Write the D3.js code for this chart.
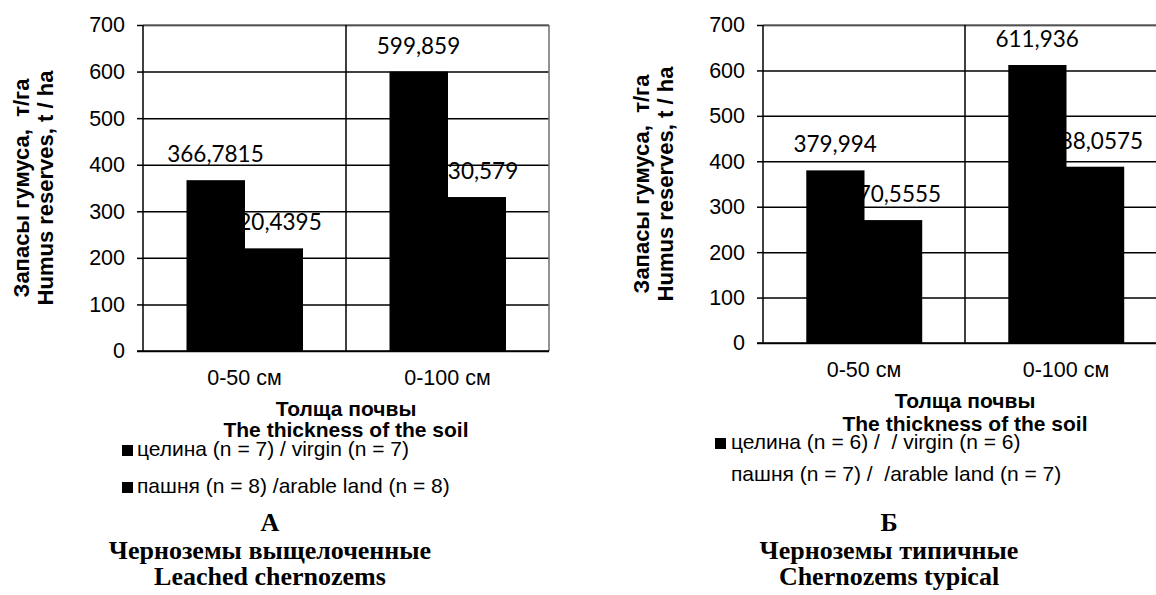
<!DOCTYPE html>
<html>
<head>
<meta charset="utf-8">
<script src="https://cdn.jsdelivr.net/npm/d3@7"></script>
<style>
  body { margin: 0; background: #fff; }
  svg text { fill: #000; white-space: pre; }
  .sans { font-family: "Liberation Sans", Arial, sans-serif; }
  .val { font-family: Lato, "Open Sans", sans-serif; }
  .serif { font-family: "Liberation Serif", "Times New Roman", serif; font-weight: bold; }
</style>
</head>
<body>
<div id="chart"></div>
<script>
// values
var categories = ["0-50 см", "0-100 см"];
var yTicks = [0, 100, 200, 300, 400, 500, 600, 700];

var leachedVirgin = [366.7815, 599.859];
var leachedArable = [220.4395, 330.579];
var typicalVirgin = [379.994, 611.936];
var typicalArable = [270.5555, 388.0575];

var leachedLegend = ["целина (n = 7) / virgin (n = 7)", "пашня (n = 8) /arable land (n = 8)"];
var typicalLegend = ["целина (n = 6) /  / virgin (n = 6)", "пашня (n = 7) /  /arable land (n = 7)"];

var yTitle = ["Запасы гумуса,  т/га", "Humus reserves, t / ha"];
var xTitle = ["Толща почвы", "The thickness of the soil"];
var leachedCaption = ["А", "Черноземы выщелоченные", "Leached chernozems"];
var typicalCaption = ["Б", "Черноземы типичные", "Chernozems typical"];

var svg = d3.select("#chart").append("svg")
  .attr("width", 1156)
  .attr("height", 595);

function fmt(v) {
  return String(v).replace(".", ",");
}

function drawPanel(p) {
  var g = svg.append("g");

  // scales
  var x = d3.scaleBand().domain(categories).range([p.x0, p.x1]);
  var xSub = d3.scaleBand().domain([0, 1]).range([0, x.bandwidth()])
    .paddingInner(0).paddingOuter(0.75);
  var y = d3.scaleLinear().domain([0, 700]).range([p.yBottom, p.yTop]);

  // horizontal grid (black)
  g.append("g")
    .attr("transform", "translate(" + p.x0 + ",0)")
    .call(d3.axisLeft(y).tickValues(yTicks).tickSizeInner(-(p.x1 - p.x0)).tickSizeOuter(0).tickFormat(""))
    .call(function (a) { a.select(".domain").remove(); })
    .call(function (a) { a.selectAll(".tick line").attr("stroke", "#000").attr("stroke-width", 1.5); });

  // outward ticks + labels
  g.append("g")
    .attr("transform", "translate(" + p.x0 + ",0)")
    .call(d3.axisLeft(y).tickValues(yTicks).tickSize(6).tickPadding(12).tickFormat(d3.format("d")))
    .call(function (a) { a.select(".domain").remove(); })
    .call(function (a) {
      a.selectAll(".tick line").attr("stroke", "#000").attr("stroke-width", 1.5);
      a.selectAll(".tick text")
        .attr("class", "sans")
        .style("font-size", "21.5px")
        .attr("fill", "#000");
    });

  // plot border: top / right gray
  g.append("line")
    .attr("x1", p.x0).attr("x2", p.x1)
    .attr("y1", y(700)).attr("y2", y(700))
    .attr("stroke", "#6e6e6e").attr("stroke-width", 1.5);
  g.append("line")
    .attr("x1", p.x1).attr("x2", p.x1)
    .attr("y1", y(700)).attr("y2", y(0))
    .attr("stroke", "#6e6e6e").attr("stroke-width", 1.5);

  // category divider
  g.selectAll(".divider")
    .data(categories.slice(1))
    .join("line")
    .attr("class", "divider")
    .attr("x1", function (d) { return x(d); })
    .attr("x2", function (d) { return x(d); })
    .attr("y1", y(700)).attr("y2", y(0))
    .attr("stroke", "#000").attr("stroke-width", 1.5);

  var series = [p.virgin, p.arable];
  var rows = [];
  series.forEach(function (vals, s) {
    vals.forEach(function (v, i) {
      rows.push({ cat: categories[i], s: s, v: v });
    });
  });

  // labels go under the bars (first bar hides the arable label's first digit)
  g.selectAll(".val")
    .data(rows)
    .join("text")
    .attr("class", "val")
    .attr("text-anchor", "middle")
    .style("font-size", "22.5px")
    .attr("x", function (d) { return x(d.cat) + xSub(d.s) + xSub.bandwidth() / 2; })
    .attr("y", function (d) { return y(d.v) - 18; })
    .text(function (d) { return fmt(d.v); });

  g.selectAll(".bar")
    .data(rows)
    .join("rect")
    .attr("class", "bar")
    .attr("x", function (d) { return x(d.cat) + xSub(d.s); })
    .attr("width", xSub.bandwidth() + 0.5)
    .attr("y", function (d) { return y(d.v); })
    .attr("height", function (d) { return y(0) - y(d.v); })
    .attr("fill", "#000");

  // axis lines
  g.append("line")
    .attr("x1", p.x0).attr("x2", p.x0)
    .attr("y1", y(700)).attr("y2", y(0))
    .attr("stroke", "#000").attr("stroke-width", 1.5);
  g.append("line")
    .attr("x1", p.x0 - 6).attr("x2", p.x1)
    .attr("y1", y(0)).attr("y2", y(0))
    .attr("stroke", "#000").attr("stroke-width", 1.5);

  // category labels
  g.selectAll(".cat")
    .data(categories)
    .join("text")
    .attr("class", "sans cat")
    .attr("text-anchor", "middle")
    .style("font-size", "21.5px")
    .attr("x", function (d) { return x(d) + x.bandwidth() / 2; })
    .attr("y", y(0) + 34)
    .text(function (d) { return d; });

  // y title
  yTitle.forEach(function (t, i) {
    g.append("text")
      .attr("class", "sans")
      .attr("text-anchor", "middle")
      .style("font-size", "22px")
      .style("font-weight", "bold")
      .attr("transform", "translate(" + (p.x0 - 114 + i * 24) + "," + ((p.yTop + p.yBottom) / 2) + ") rotate(-90)")
      .text(t);
  });

  // x title
  xTitle.forEach(function (t, i) {
    g.append("text")
      .attr("class", "sans")
      .attr("text-anchor", "middle")
      .style("font-size", "21px")
      .style("font-weight", "bold")
      .attr("x", (p.x0 + p.x1) / 2)
      .attr("y", p.xTitleY[i])
      .text(t);
  });

  // legend
  p.legend.forEach(function (t, i) {
    if (p.legendMark[i]) {
      g.append("rect")
        .attr("x", p.legendX)
        .attr("y", p.legendY[i] - 11)
        .attr("width", 11)
        .attr("height", 11)
        .attr("fill", "#000");
    }
    g.append("text")
      .attr("class", "sans")
      .style("font-size", "21px")
      .attr("x", p.legendX + p.legendGap)
      .attr("y", p.legendY[i])
      .text(t);
  });

  // caption
  p.caption.forEach(function (t, i) {
    g.append("text")
      .attr("class", "serif")
      .attr("text-anchor", "middle")
      .style("font-size", "26px")
      .attr("x", p.captionX)
      .attr("y", [531, 559, 585][i])
      .text(t);
  });
}

drawPanel({
  x0: 143, x1: 549, yTop: 25, yBottom: 351,
  virgin: leachedVirgin, arable: leachedArable,
  xTitleY: [416, 437],
  legend: leachedLegend, legendMark: [true, true],
  legendX: 122, legendGap: 15, legendY: [456, 493],
  caption: leachedCaption, captionX: 270
});

drawPanel({
  x0: 763, x1: 1167, yTop: 25, yBottom: 343,
  virgin: typicalVirgin, arable: typicalArable,
  xTitleY: [408, 431],
  legend: typicalLegend, legendMark: [true, false],
  legendX: 715, legendGap: 16, legendY: [449, 481],
  caption: typicalCaption, captionX: 889
});
</script>
</body>
</html>
